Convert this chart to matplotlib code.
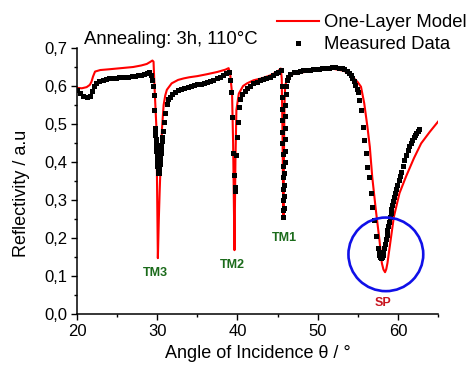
import matplotlib
matplotlib.use("Agg")
import matplotlib.pyplot as plt
from matplotlib.patches import Ellipse
from matplotlib.lines import Line2D

plt.rcParams["font.family"] = ["Liberation Sans", "DejaVu Sans"]

# one-layer model (red line)
model_theta = [20.0, 20.6, 21.2, 21.6, 21.8, 22.0, 22.25, 22.9, 24.0, 25.0, 26.0, 27.0,
               28.0, 28.7, 29.1, 29.4, 29.54, 29.62, 29.7, 29.8, 29.9, 30.0, 30.08,
               30.2, 30.3, 30.4, 30.6, 30.8, 31.0, 31.2, 31.8, 32.6, 33.3, 34.0, 35.0,
               36.2, 37.5, 38.5, 38.9, 39.1, 39.33, 39.46, 39.54, 39.63, 39.75, 39.87,
               40.17, 40.7, 41.2, 42.0, 43.0, 44.1, 45.0, 45.4, 45.52, 45.62, 45.7,
               45.74, 45.8, 45.86, 45.95, 46.2, 47.0, 48.7, 50.4, 52.0, 53.3, 54.3,
               55.0, 55.4, 55.8, 56.2, 56.5, 56.8, 57.25, 57.7, 58.0, 58.2, 58.4,
               58.55, 58.7, 59.1, 59.5, 60.2, 61.0, 62.0, 62.9, 64.0, 65.0]
model_refl = [0.595, 0.594, 0.597, 0.603, 0.611, 0.625, 0.638, 0.642, 0.644, 0.646, 0.648, 0.650,
              0.654, 0.658, 0.663, 0.667, 0.664, 0.62, 0.58, 0.535, 0.49, 0.30, 0.147,
              0.25, 0.32, 0.38, 0.49, 0.55, 0.575, 0.59, 0.607, 0.616, 0.620, 0.623, 0.626,
              0.631, 0.637, 0.643, 0.647, 0.63, 0.58, 0.45, 0.318, 0.168, 0.405, 0.537,
              0.58, 0.60, 0.607, 0.615, 0.620, 0.628, 0.638, 0.646, 0.62, 0.47, 0.30,
              0.26, 0.42, 0.55, 0.60, 0.622, 0.632, 0.638, 0.643, 0.645, 0.640, 0.625,
              0.61, 0.598, 0.555, 0.493, 0.44, 0.361, 0.274, 0.195, 0.134, 0.117, 0.110,
              0.118, 0.134, 0.195, 0.256, 0.318, 0.361, 0.410, 0.449, 0.480, 0.506]

# measured data (black squares)
meas_theta = [20.0, 20.4, 20.8, 21.2, 21.6, 21.9, 22.1, 22.4, 22.8, 23.2, 23.6, 24.0, 24.4,
              24.8, 25.2, 25.6, 26.0, 26.4, 26.8, 27.2, 27.6, 28.0, 28.4, 28.7, 29.0,
              29.2, 29.35, 29.45, 29.54, 29.62,
              29.7, 29.73, 29.76, 29.79, 29.82, 29.85, 29.88, 29.91, 29.94, 29.97, 30.0,
              30.04, 30.1, 30.16, 30.22, 30.27, 30.31, 30.35, 30.39, 30.43, 30.47, 30.51,
              30.55, 30.6, 30.7, 30.8, 31.0, 31.2, 31.4, 31.6, 31.9, 32.2, 32.6, 33.0,
              33.4, 33.8, 34.2, 34.6, 35.0, 35.4, 35.8, 36.2, 36.6, 37.0, 37.4, 37.8,
              38.2, 38.6, 38.9, 39.05, 39.15, 39.33, 39.46, 39.6, 39.67, 39.72, 39.83,
              39.96, 40.04, 40.17, 40.35, 40.6, 40.9, 41.2, 41.6, 42.0, 42.4, 42.8,
              43.2, 43.6, 44.0, 44.4, 44.8, 45.1, 45.4,
              45.5, 45.52, 45.54, 45.56, 45.58, 45.6, 45.62, 45.64, 45.66, 45.68, 45.7,
              45.72, 45.74, 45.8, 45.82, 45.84, 45.86, 45.88, 45.9, 45.92, 45.94, 45.96,
              45.98, 46.02, 46.08, 46.15, 46.3, 46.6, 47.0, 47.4, 47.8, 48.2, 48.6,
              49.0, 49.4, 49.8, 50.2, 50.6, 51.0, 51.4, 51.8, 52.2, 52.6, 53.0, 53.3,
              53.6, 53.9, 54.1, 54.3, 54.5, 54.7, 54.9, 55.0, 55.2, 55.4, 55.6, 55.8,
              56.0, 56.2, 56.4, 56.6, 56.8, 57.04, 57.25, 57.46, 57.6, 57.7, 57.8,
              57.9, 58.0, 58.1, 58.2, 58.3, 58.4, 58.5, 58.6, 58.7, 58.8, 58.9, 59.0,
              59.1, 59.2, 59.3, 59.4, 59.5, 59.6, 59.75, 59.9, 60.1, 60.25, 60.4,
              60.6, 60.8, 61.0, 61.2, 61.4, 61.6, 61.8, 62.0, 62.15, 62.3, 62.45, 62.6]
meas_refl = [0.589, 0.582, 0.575, 0.572, 0.575, 0.588, 0.600, 0.608, 0.614, 0.617, 0.619, 0.620, 0.621,
             0.622, 0.623, 0.624, 0.624, 0.625, 0.626, 0.627, 0.628, 0.629, 0.631, 0.633, 0.636,
             0.630, 0.615, 0.600, 0.576, 0.537,
             0.490, 0.480, 0.470, 0.460, 0.450, 0.440, 0.430, 0.420, 0.410, 0.400, 0.390,
             0.380, 0.372, 0.370, 0.374, 0.385, 0.395, 0.405, 0.415, 0.425, 0.435, 0.445,
             0.455, 0.465, 0.482, 0.504, 0.530, 0.553, 0.565, 0.572, 0.580, 0.585, 0.589, 0.592,
             0.595, 0.598, 0.600, 0.602, 0.604, 0.606, 0.609, 0.611, 0.614, 0.617, 0.620, 0.624,
             0.628, 0.633, 0.638, 0.616, 0.585, 0.519, 0.423, 0.365, 0.335, 0.325, 0.418,
             0.467, 0.505, 0.545, 0.565, 0.578, 0.588, 0.595, 0.601, 0.607, 0.611, 0.615,
             0.618, 0.621, 0.624, 0.628, 0.633, 0.637, 0.642,
             0.600, 0.570, 0.540, 0.510, 0.480, 0.450, 0.420, 0.390, 0.360, 0.330, 0.300,
             0.275, 0.256, 0.280, 0.310, 0.340, 0.370, 0.400, 0.430, 0.460, 0.490, 0.520,
             0.550, 0.580, 0.600, 0.615, 0.625, 0.631, 0.636, 0.638, 0.640, 0.641, 0.642,
             0.643, 0.644, 0.645, 0.646, 0.647, 0.648, 0.648, 0.649, 0.649, 0.648, 0.647, 0.644,
             0.640, 0.634, 0.628, 0.622, 0.613, 0.603, 0.593, 0.585, 0.563, 0.537, 0.493, 0.458,
             0.423, 0.388, 0.361, 0.318, 0.282, 0.247, 0.204, 0.173, 0.160, 0.155, 0.150,
             0.148, 0.150, 0.155, 0.163, 0.173, 0.185, 0.197, 0.209, 0.221, 0.232, 0.243, 0.254,
             0.265, 0.276, 0.287, 0.298, 0.309, 0.318, 0.330, 0.340, 0.353, 0.363, 0.375,
             0.390, 0.405, 0.418, 0.432, 0.441, 0.450, 0.458, 0.465, 0.471, 0.476, 0.481, 0.486]

# mode labels
mode_names = ["TM3", "TM2", "TM1"]
mode_pos = [(29.8, 0.108), (39.4, 0.129), (45.9, 0.200)]
sp_pos = (58.1, 0.029)
circle_center = (58.5, 0.157)

fig = plt.figure(figsize=(4.68, 3.67), dpi=100)
ax = fig.add_axes([77 / 468, 1 - 314 / 367, 361 / 468, 266 / 367])

ax.plot(model_theta, model_refl, color="#ff0000", lw=1.5, zorder=2)
ax.plot(meas_theta, meas_refl, ls="none", marker="s", ms=3.6, color="black",
        markeredgewidth=0, zorder=3)

for name, (x, y) in zip(mode_names, mode_pos):
    ax.text(x, y, name, color="#1b6b1b", fontsize=9, fontweight="bold",
            ha="center", va="center")
ax.text(sp_pos[0], sp_pos[1], "SP", color="#c8141e", fontsize=9, fontweight="bold",
        ha="center", va="center")

ax.add_patch(Ellipse(circle_center, 2 * 37.3 / 8, 2 * 36.8 / 380, fill=False,
                     edgecolor="#1010e8", lw=1.9, zorder=4))

ax.set_xlim(20, 65)
ax.set_ylim(0, 0.7)
ax.set_xticks([20, 30, 40, 50, 60])
ax.set_xticks([25, 35, 45, 55, 65], minor=True)
ax.set_yticks([0.0, 0.1, 0.2, 0.3, 0.4, 0.5, 0.6, 0.7])
ax.set_yticks([0.05, 0.15, 0.25, 0.35, 0.45, 0.55, 0.65], minor=True)
ax.set_yticklabels([f"{v:.1f}".replace(".", ",") for v in ax.get_yticks()])
ax.tick_params(which="both", direction="out", labelsize=12, width=1.0)
ax.tick_params(which="major", length=4.5, pad=2.5)
ax.tick_params(which="minor", length=2.5)
for side in ["top", "right"]:
    ax.spines[side].set_visible(False)
for side in ["left", "bottom"]:
    ax.spines[side].set_linewidth(1.1)

ax.set_xlabel("Angle of Incidence θ / °", fontsize=13, va="top")
ax.xaxis.set_label_coords(0.5, -0.1165)
ax.set_ylabel("Reflectivity / a.u", fontsize=13)
ax.yaxis.set_label_coords(-0.130, (314 - 193) / 266)

fig.text(84 / 468, 1 - 44 / 367, "Annealing: 3h, 110°C", fontsize=13.3, va="baseline")

handles = [Line2D([], [], color="#ff0000", lw=1.5),
           Line2D([], [], ls="none", marker="s", ms=3.6, color="black", markeredgewidth=0)]
fig.legend(handles, ["One-Layer Model", "Measured Data"], loc="upper left",
           bbox_to_anchor=(277 / 468, 1 - 14 / 367), frameon=False, fontsize=13.3,
           borderpad=0, borderaxespad=0, handlelength=2.25, handletextpad=0.27,
           labelspacing=0.28)

fig.savefig("out.png", dpi=100)
